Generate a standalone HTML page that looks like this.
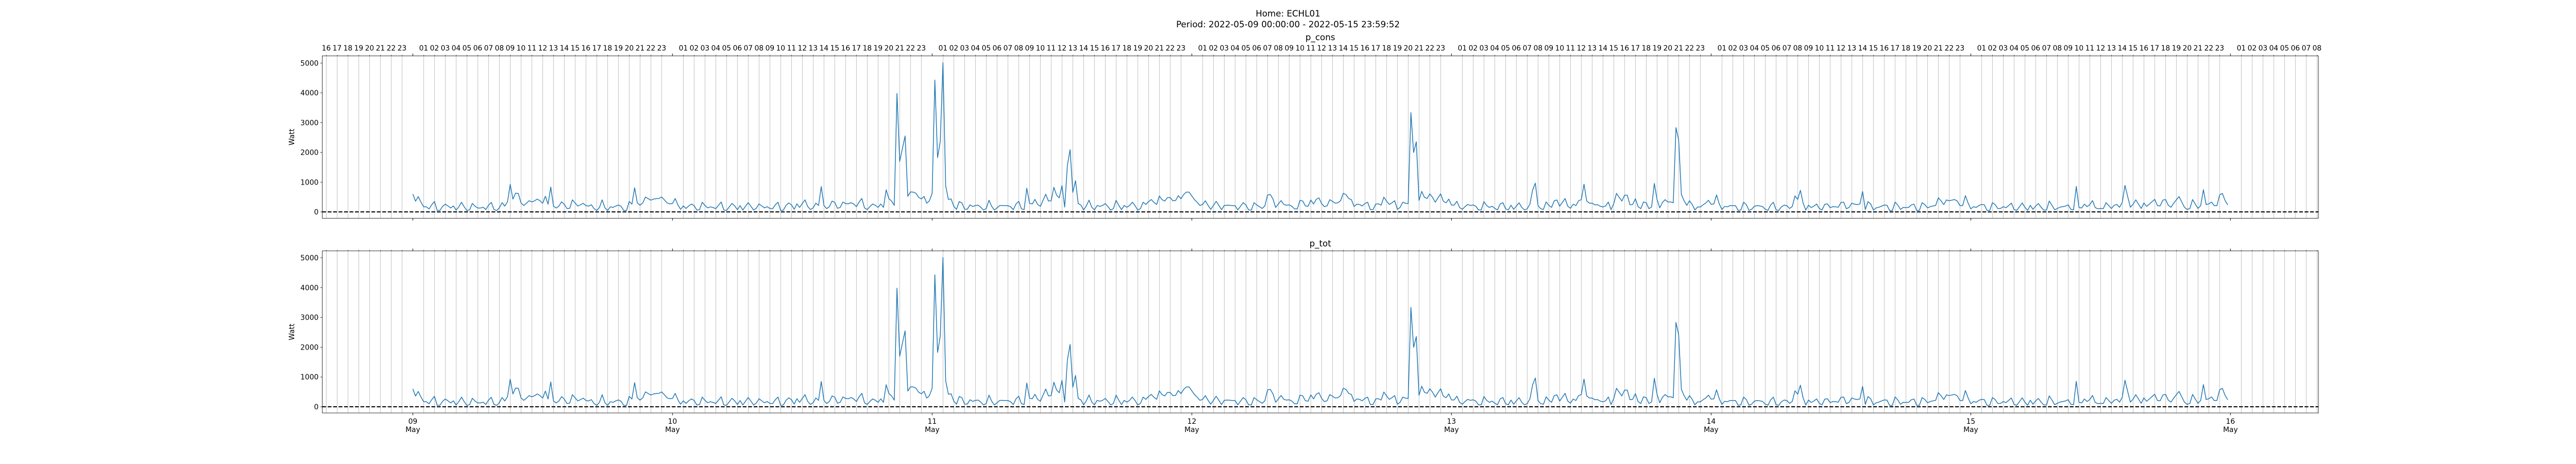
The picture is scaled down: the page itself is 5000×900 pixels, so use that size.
<!DOCTYPE html>
<html><head><meta charset="utf-8">
<style>
html,body{margin:0;padding:0;background:#fff;}
svg{display:block;font-family:"DejaVu Sans","Liberation Sans",sans-serif;}
</style></head>
<body>
<svg id="chart" width="5000" height="900" viewBox="0 0 5000 900" xmlns="http://www.w3.org/2000/svg">
<rect x="0" y="0" width="5000" height="900" fill="#fff"/>
<text x="2500" y="32" text-anchor="middle" font-size="16.7">Home: ECHL01</text>
<text x="2500" y="53" text-anchor="middle" font-size="16.7">Period: 2022-05-09 00:00:00 - 2022-05-15 23:59:52</text>
</svg>
<script>
// 15-minute samples, one array per day (Watt)
const day09 = [600,360,515,330,170,170,100,240,350,50,50,185,260,200,130,200,60,170,325,170,45,70,285,190,130,130,155,80,225,320,80,45,140,310,195,340,925,430,630,620,300,215,290,375,335,370,430,375,290,525,260,835,195,130,195,340,255,110,120,405,300,195,240,290,210,195,240,110,45,150,405,140,45,170,150,195,230,185,45,45,350,260,810,300,225,300,500,445,395,430,445,450,500,405,300,270];
const day10 = [280,450,235,85,200,115,200,265,210,60,75,325,215,135,170,145,110,220,335,60,50,170,285,200,75,210,60,190,310,190,60,125,270,200,135,175,115,105,235,325,45,60,220,300,235,90,270,150,280,405,180,80,135,295,215,850,215,110,175,365,320,120,150,330,280,270,310,265,175,335,450,135,75,180,265,220,150,265,150,740,445,365,220,3980,1695,2130,2550,525,670,665,625,490,435,520,290,375];
const day11 = [625,4430,1825,2365,5010,875,420,435,190,85,345,305,90,90,235,180,215,225,155,60,115,390,190,60,135,215,215,210,210,170,75,265,355,105,75,795,290,265,420,250,185,390,595,365,375,825,565,470,885,160,1570,2090,655,1050,280,230,65,200,395,160,65,215,185,215,280,180,60,110,390,220,75,215,155,215,325,215,60,110,325,250,345,415,320,250,535,410,365,480,480,375,380,545,440,585,665,665];
const day12 = [535,410,320,215,250,375,220,85,215,355,215,75,215,225,220,210,210,65,190,310,235,65,60,310,235,175,115,200,565,585,435,150,265,380,250,225,235,190,100,100,390,365,200,190,400,265,420,470,280,175,200,410,355,295,305,375,625,580,450,410,180,260,250,200,280,325,75,75,265,270,225,495,365,250,305,375,85,150,325,290,280,3335,1995,2355,385,690,490,450,605,490,325,470,605,355,305,430];
const day13 = [230,230,355,150,85,175,250,215,235,190,65,65,345,215,150,190,120,65,265,310,105,65,225,85,200,305,150,65,105,265,735,965,210,105,85,335,220,150,375,400,190,320,450,190,120,260,210,375,410,930,365,295,295,235,240,190,165,200,330,75,280,620,490,365,560,560,235,250,440,175,110,335,305,110,165,955,420,135,320,410,335,335,305,2830,2415,585,375,220,375,250,65,165,165,235,295,390];
const day14 = [255,265,570,270,80,185,170,210,210,210,50,65,325,245,50,90,190,210,200,180,90,50,230,325,70,50,170,225,210,115,180,535,420,725,300,60,225,145,195,265,115,65,255,270,140,175,170,155,320,325,105,150,295,260,245,265,685,80,345,265,60,135,155,195,230,225,45,45,330,230,85,150,145,150,235,260,50,50,310,245,135,175,200,215,475,370,245,400,375,395,415,365,210,210,545,300];
const day15 = [100,175,150,215,250,240,50,50,310,245,110,115,175,140,215,295,80,50,175,300,155,50,220,85,200,280,155,60,60,365,225,70,115,160,175,195,240,85,70,855,150,130,260,175,245,380,145,105,115,110,310,210,115,220,250,155,320,890,515,155,255,405,260,115,300,185,260,340,420,210,200,395,415,225,155,290,405,515,330,155,80,115,415,260,115,215,745,245,270,330,210,210,570,620,385,235];
const seriesValues = [].concat(day09, day10, day11, day12, day13, day14, day15);
const stepHours = 0.25;
const yTicks = [0,1000,2000,3000,4000,5000];
const dayLabels = ["09","10","11","12","13","14","15","16"];
const monthLabel = "May";

const NS = "http://www.w3.org/2000/svg";
const svg = document.getElementById("chart");
const X0 = 625.4, X1 = 4500;
const T0 = 801.3, PXH = 21.0;            // px of 09 May 00:00, px per hour
const HMIN = (X0 - T0) / PXH, HMAX = (X1 - T0) / PXH;
function xScale(h){ return T0 + h * PXH; }

function el(tag, attrs, parent){
  const e = document.createElementNS(NS, tag);
  for (const k in attrs) e.setAttribute(k, attrs[k]);
  (parent || svg).appendChild(e);
  return e;
}

const panels = [
  {name:"p_cons", top:108.3, bottom:423.3, zero:411.0, y5k:122.3, titleY:78, hourLabels:true, dateLabels:false},
  {name:"p_tot", top:486.7, bottom:801.0, zero:789.0, y5k:500.0, titleY:478, hourLabels:false, dateLabels:true}
];

panels.forEach(function(p){
  const g = el("g", {});
  
  
  const pxPerW = (p.zero - p.y5k) / 5000;
  const yScale = function(v){ return p.zero - v * pxPerW; };

  // hourly grid lines (no line at midnight)
  const hStart = Math.ceil(HMIN), hEnd = Math.floor(HMAX);
  for (let h = hStart; h <= hEnd; h++){
    const hr = ((h % 24) + 24) % 24;
    const x = xScale(h);
    if (hr !== 0){
      const gl = el("line", {x1:x, x2:x, y1:p.top, y2:p.bottom, stroke:"#b0b0b0", "stroke-width":0.8}, g);
      
      
      const tk = el("line", {x1:x, x2:x, y1:p.top, y2:p.top-2, stroke:"#000", "stroke-width":0.6}, g);
      
      
      if (p.hourLabels){
        const t = el("text", {x:x, y:98, "text-anchor":"middle", "font-size":13.9}, g);
        t.textContent = (hr < 10 ? "0" : "") + hr;
        
        
      }
    } else {
      const mt = el("line", {x1:x, x2:x, y1:p.top, y2:p.top-4.5, stroke:"#000", "stroke-width":1}, g);
      
      
      const mb = el("line", {x1:x, x2:x, y1:p.bottom, y2:p.bottom+4.5, stroke:"#000", "stroke-width":1}, g);
      
      
      if (p.dateLabels){
        const di = Math.round(h / 24);
        const t1 = el("text", {x:x, y:822, "text-anchor":"middle", "font-size":13.9}, g);
        t1.textContent = dayLabels[di];
        
        
        const t2 = el("text", {x:x, y:838, "text-anchor":"middle", "font-size":13.9}, g);
        t2.textContent = monthLabel;
        
        
      }
    }
  }

  // y ticks
  yTicks.forEach(function(v){
    const y = yScale(v);
    const tk = el("line", {x1:X0, x2:X0-3.5, y1:y, y2:y, stroke:"#000", "stroke-width":0.8}, g);
    
    
    const t = el("text", {x:X0-7, y:y+5, "text-anchor":"end", "font-size":13.9}, g);
    t.textContent = v;
    
    
  });

  // zero line
  const zl = el("line", {x1:X0, x2:X1, y1:yScale(0), y2:yScale(0), stroke:"#000", "stroke-width":2, "stroke-dasharray":"7.4,3.2"}, g);
  
  

  // series
  let d = "";
  seriesValues.forEach(function(v, i){
    d += (i ? "L" : "M") + xScale(i * stepHours).toFixed(2) + "," + yScale(v).toFixed(2);
  });
  const line = el("path", {d:d, fill:"none", stroke:"#1f77b4", "stroke-width":1.5, "stroke-linejoin":"round"}, g);
  
  

  // frame
  const fr = el("rect", {x:X0, y:p.top, width:X1-X0, height:p.bottom-p.top, fill:"none", stroke:"#000", "stroke-width":0.8}, g);
  
  

  // axis title + panel title
  const cy = (p.top + p.bottom) / 2;
  const yl = el("text", {x:571, y:cy, "text-anchor":"middle", "font-size":13.9, transform:"rotate(-90 571 " + cy + ")"}, g);
  yl.textContent = "Watt";
  
  
  const pt = el("text", {x:(X0+X1)/2, y:p.titleY, "text-anchor":"middle", "font-size":16.7}, g);
  pt.textContent = p.name;
  
  
});
</script>
</body></html>
